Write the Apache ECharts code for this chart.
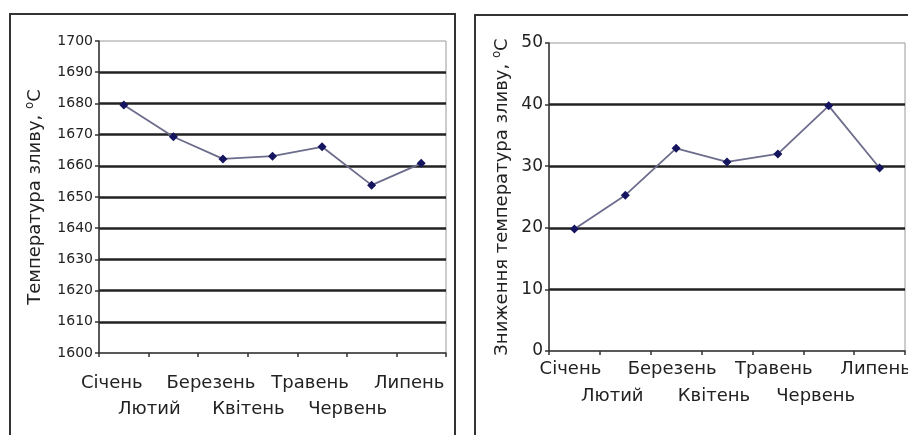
<!DOCTYPE html>
<html>
<head>
<meta charset="utf-8">
<script src="https://cdn.jsdelivr.net/npm/echarts@6/dist/echarts.min.js"></script>
<style>
html,body{margin:0;padding:0;background:#fff;}
#main{width:908px;height:435px;}
</style>
</head>
<body>
<div id="main"></div>
<script>
// місяці
var months=['Січень','Лютий','Березень','Квітень','Травень','Червень','Липень'];
// температура зливу, °C
var pourTemp=[1679.5,1669.3,1662.2,1663.1,1666.1,1653.8,1660.8];
// зниження температури зливу, °C
var tempDrop=[19.8,25.3,32.9,30.7,32.0,39.8,29.7];

var leftTicks={min:1600,max:1700,interval:10};
var rightTicks={min:0,max:50,interval:10};

var chart=echarts.init(document.getElementById('main'));
var font='DejaVu Sans';

//підписи в два ряди
function catLabel(shift1,shift2,lh){
	return {
		interval:0,
		margin:0,
		formatter:function(v,i){
			return i%2==0 ? '{a|'+v+'}\n{e| }' : '{e| }\n{b|'+v+'}';
		},
		rich:{
			a:{fontFamily:font,fontSize:18,color:'#222',lineHeight:lh,padding:[0,shift1,0,0]},
			b:{fontFamily:font,fontSize:18,color:'#222',lineHeight:lh,padding:[0,shift2,0,0]},
			e:{fontSize:18,lineHeight:lh}
		}
	};
}

function xAxis(idx,lab,marg){
	var l=lab; l.margin=marg;
	return {
		type:'category',gridIndex:idx,data:months,boundaryGap:true,
		axisLine:{lineStyle:{color:'#333',width:1.5}},
		axisTick:{show:true,length:4,lineStyle:{color:'#333',width:1.5}},
		axisLabel:l,
		splitLine:{show:false}
	};
}

function yAxis(idx,t,name,fs,gap,nameSize){
	return {
		type:'value',gridIndex:idx,min:t.min,max:t.max,interval:t.interval,
		name:name,nameLocation:'middle',nameGap:gap,
		nameTextStyle:{fontFamily:font,fontSize:nameSize,color:'#222',
			rich:{s:{fontFamily:font,fontSize:nameSize*0.65,color:'#222',verticalAlign:'top',padding:[0,0,nameSize*0.55,0]},
			      n:{fontFamily:font,fontSize:nameSize,color:'#222'}}},
		axisLine:{show:true,lineStyle:{color:'#333',width:1.5}},
		axisTick:{show:true,length:4,lineStyle:{color:'#333',width:1.5}},
		axisLabel:{fontFamily:font,fontSize:fs,color:'#222',margin:6,formatter:function(v){return String(v);}},
		splitLine:{show:true,showMaxLine:false,showMinLine:false,lineStyle:{color:'#222',width:2.6}}
	};
}

function lineSeries(x,y,data){
	return {
		type:'line',xAxisIndex:x,yAxisIndex:y,data:data,
		symbol:'diamond',symbolSize:9,
		lineStyle:{color:'#6c6c8c',width:1.8},
		itemStyle:{color:'#14145f'},
		animation:false
	};
}

var option={
	backgroundColor:'#ffffff',
	animation:false,
	graphic:[
		{type:'rect',shape:{x:10,y:14,width:445,height:440},style:{fill:'none',stroke:'#333',lineWidth:2}},
		{type:'rect',shape:{x:475,y:15,width:460,height:440},style:{fill:'none',stroke:'#333',lineWidth:2}}
	],
	grid:[
		{left:99,top:41,width:347,height:312,outerBoundsMode:'none',show:true,borderColor:'#9a9a9a',borderWidth:1,backgroundColor:'transparent'},
		{left:549,top:43,width:356,height:308,outerBoundsMode:'none',show:true,borderColor:'#9a9a9a',borderWidth:1,backgroundColor:'transparent'}
	],
	xAxis:[
		xAxis(0,catLabel(24,48,26),17),
		xAxis(1,catLabel(8,26,27),5)
	],
	yAxis:[
		yAxis(0,leftTicks,'{n|Температура зливу, }{s|o}{n|C}',14,53,18),
		yAxis(1,rightTicks,'{n|Зниження температура зливу, }{s|o}{n|C}',17,36,18)
	],
	series:[
		lineSeries(0,0,pourTemp),
		lineSeries(1,1,tempDrop)
	]
};
chart.setOption(option);
</script>
</body>
</html>
